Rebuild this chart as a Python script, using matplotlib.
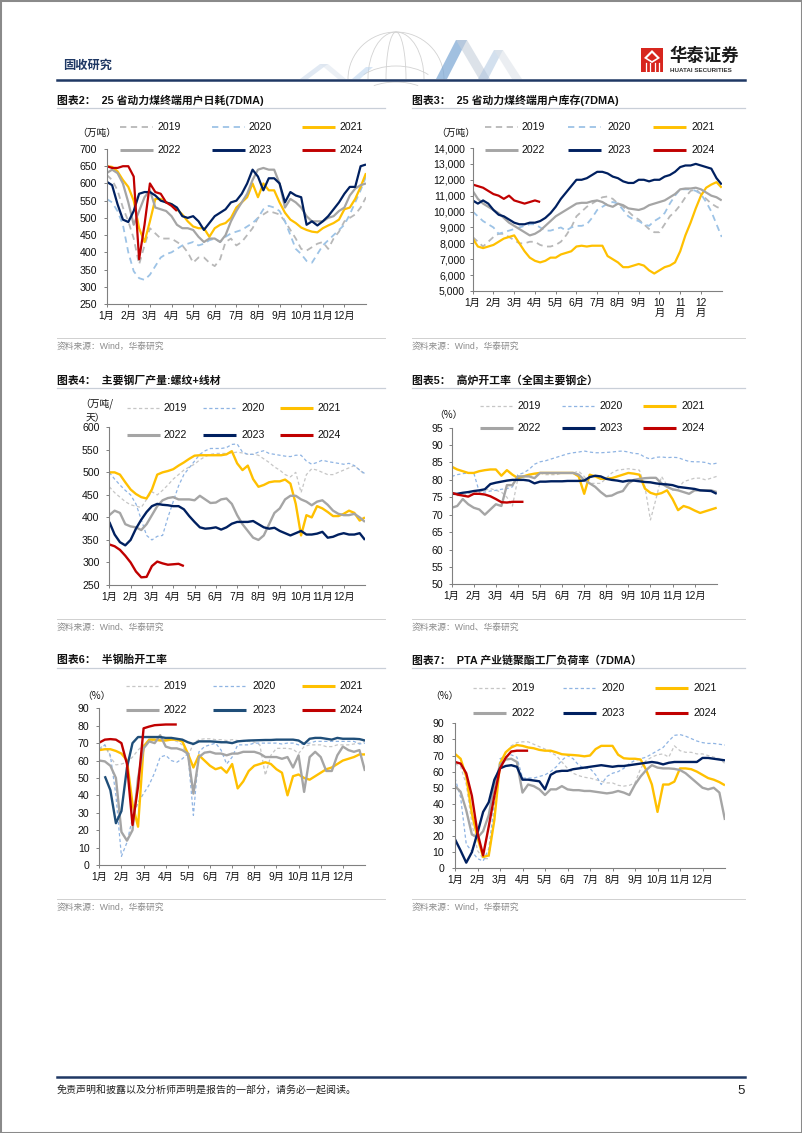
import numpy as np
import matplotlib
matplotlib.use("Agg")
import matplotlib.pyplot as plt
from matplotlib.lines import Line2D
from matplotlib.patches import Rectangle, Polygon, Arc
from matplotlib.ticker import FuncFormatter, FixedLocator

plt.rcParams['font.family'] = ['Liberation Sans', 'Noto Sans CJK SC', 'DejaVu Sans']
plt.rcParams['axes.unicode_minus'] = False
CJK = ['Noto Sans CJK SC', 'DejaVu Sans']

W, H = 802, 1133
NA = np.nan

# x grid: month position (1 = 1 Jan, 13 = end of Dec), quarter-month steps
grid_pos = [1 + q / 4 for q in range(49)]
YEARS = ['2019', '2020', '2021', '2022', '2023', '2024']
MONTH_TICKS = list(range(1, 13))
MONTH_LABELS = ['1月', '2月', '3月', '4月', '5月', '6月', '7月', '8月', '9月', '10月', '11月', '12月']
MONTH_LABELS_WRAP = ['1月', '2月', '3月', '4月', '5月', '6月', '7月', '8月', '9月', '10\n月', '11\n月', '12\n月']

# ---------------- 图表2: 25省动力煤终端用户日耗 (万吨) ----------------
burn_2019 = [625, 610, 580, 530, 490, 440, 365, 420, 470, 455, 440, 440,
             440, 430, 420, 400, 370, 385, 385, 370, 360, 380, 430, 440,
             420, 430, 450, 470, 500, 510, 520, 515, 510, 490, 465, 440,
             410, 405, 415, 425, 430, 410, 440, 460, 490, 500, 510, 530, 560]
burn_2020 = [555, 545, 520, 480, 400, 345, 325, 320, 335, 360, 385, 395,
             400, 410, 420, 425, 430, 420, 425, 435, 440, 430, 445, 455,
             460, 465, 475, 485, 500, 525, 535, 530, 520, 490, 450, 410,
             395, 375, 370, 395, 420, 435, 450, 465, 480, 510, 545, 580, 620]
burn_2021 = [650, 648, 635, 610, 590, 550, 470, 430, 490, 555, 555, 545,
             540, 525, 510, 490, 475, 470, 470, 445, 470, 480, 485, 500,
             530, 545, 560, 600, 560, 600, 580, 580, 545, 515, 495, 485,
             472, 465, 460, 458, 470, 478, 485, 495, 525, 530, 555, 590, 630]
burn_2022 = [630, 640, 630, 600, 545, 480, 520, 560, 580, 530, 525, 520,
             505, 480, 470, 470, 465, 445, 430, 440, 440, 430, 450, 490,
             520, 545, 570, 610, 640, 645, 640, 640, 600, 530, 555, 545,
             530, 505, 490, 490, 490, 500, 505, 520, 530, 565, 585, 595, 600]
burn_2023 = [605, 595, 540, 495, 488, 520, 570, 575, 575, 565, 550, 545,
             540, 530, 505, 500, 505, 490, 465, 485, 505, 515, 525, 545,
             550, 570, 600, 640, 620, 580, 615, 615, 600, 545, 575, 565,
             560, 480, 490, 478, 490, 505, 525, 545, 570, 590, 590, 650, 655]
burn_2024 = [650, 645, 645, 650, 650, 620, 380, 480, 600, 575, 570, 545, 535, 520]

# ---------------- 图表3: 25省动力煤终端用户库存 (万吨) ----------------
stock_2019 = [8400, 8100, 7800, 8100, 8400, 8600, 8600, 8400, 8200, 8000, 8000, 8100,
              8100, 7900, 7800, 7800, 7900, 8100, 8500, 9000, 9700, 10000, 10300, 10500,
              10700, 10900, 10950, 10800, 10500, 10300, 10000, 9700, 9500, 9200, 8900, 8700,
              8700, 9200, 9700, 10000, 10400, 10900, 11300, 11400, 11100, 10800, 10500, 10300, 10150]
stock_2020 = [10000, 9700, 9400, 9200, 9000, 8600, 8700, 8800, 8900, 9000, 9100, 9200,
              9200, 9000, 8800, 8800, 8900, 9000, 8800, 9000, 9100, 9100, 9200, 9600,
              10100, 10300, 10500, 10600, 10500, 10100, 9700, 9500, 9400, 9200, 9100, 9400,
              9600, 9900, 10500, 11000, 11400, 11400, 11400, 11300, 11100, 10600, 10000, 9200, 8400]
stock_2021 = [8300, 7800, 7700, 7800, 7900, 8100, 8300, 8400, 8500, 8000, 7500, 7100,
              6900, 6800, 6900, 7100, 7100, 7300, 7400, 7500, 7800, 7850, 7800, 7850,
              7850, 7850, 7200, 7000, 6800, 6500, 6500, 6600, 6700, 6600, 6300, 6100,
              6300, 6500, 6600, 6800, 7500, 8500, 9300, 10200, 11000, 11500, 11700, 11850, 11500]
stock_2022 = [11300, 10800, 10500, 10300, 10100, 9900, 9600, 9300, 9100, 8900, 8700, 8500,
              8600, 8800, 9100, 9400, 9700, 9900, 10100, 10300, 10500, 10550, 10550, 10650,
              10700, 10600, 10400, 10300, 10500, 10400, 10200, 10150, 10100, 10200, 10400, 10500,
              10600, 10700, 10900, 11100, 11400, 11450, 11450, 11500, 11400, 11200, 11000, 10900, 10700]
stock_2023 = [10700, 10500, 10700, 10500, 10100, 9800, 9700, 9500, 9300, 9200, 9200, 9300,
              9300, 9400, 9600, 9900, 10300, 10800, 11200, 11600, 12000, 12000, 12100, 12300,
              12500, 12500, 12400, 12200, 12100, 11900, 11800, 11800, 12000, 12000, 11900, 12000,
              12000, 12200, 12300, 12500, 12800, 12900, 12900, 13000, 12900, 12800, 12700, 12100, 11700]
stock_2024 = [11700, 11600, 11500, 11300, 11100, 11000, 10800, 11000, 10700, 10600,
              10500, 10600, 10700, 10600]

# ---------------- 图表4: 主要钢厂产量 螺纹+线材 (万吨/天) ----------------
steel_2019 = [468, 455, 445, 435, 428, 425, 422, 440, 457, 450, 460, 472,
              485, 495, 505, 512, 518, 528, 535, 540, 542, 542, 542, 543,
              545, 543, 540, 540, 538, 530, 522, 512, 505, 495, 490, 500,
              455, 495, 508, 505, 500, 495, 495, 500, 505, 510, 515, 505, 495]
steel_2020 = [500, 485, 472, 460, 450, 430, 395, 360, 350, 358, 360, 400,
              435, 470, 495, 510, 525, 540, 548, 553, 553, 553, 555, 562,
              563, 545, 540, 540, 545, 548, 542, 540, 538, 536, 535, 538,
              538, 525, 518, 522, 527, 524, 522, 520, 518, 520, 515, 505, 497]
steel_2021 = [500, 500, 495, 478, 462, 452, 445, 442, 462, 495, 500, 503,
              507, 515, 522, 530, 537, 538, 538, 538, 538, 538, 540, 547,
              520, 505, 515, 485, 468, 472, 478, 480, 480, 484, 475, 430,
              360, 405, 400, 425, 420, 412, 403, 403, 408, 415, 410, 393, 400]
steel_2022 = [405, 415, 410, 385, 380, 378, 372, 385, 405, 425, 438, 443,
              445, 440, 440, 440, 438, 448, 440, 432, 433, 440, 442, 430,
              405, 385, 370, 355, 350, 360, 385, 410, 420, 440, 448, 448,
              440, 435, 427, 435, 438, 428, 415, 408, 405, 405, 408, 400, 390]
steel_2023 = [390, 362, 345, 338, 350, 375, 395, 412, 425, 430, 428, 427,
              425, 425, 418, 403, 390, 378, 375, 376, 378, 373, 378, 386,
              390, 390, 390, 392, 385, 378, 375, 377, 370, 365, 360, 365,
              370, 362, 362, 364, 368, 355, 357, 362, 365, 362, 362, 365, 350]
steel_2024 = [340, 336, 328, 315, 300, 280, 267, 268, 292, 302, 298, 295, 296, 297, 292]

# ---------------- 图表5: 高炉开工率 (%) ----------------
bf_2019 = [76, 75.5, 75.5, 76, 76.5, 76.5, 77, 77.5, 77, 76.5, 75, 72.5,
           80.5, 81, 81.5, 81.5, 82, 81.5, 81.5, 81.5, 82, 82, 82, 82.5,
           81, 79, 79, 79, 80.5, 82, 82.8, 83, 83.2, 83, 82.8, 78,
           68.5, 74.5, 81, 78.5, 77, 77.5, 79.5, 80, 80.5, 80.5, 80, 80.5, 81]
bf_2020 = [81, 81.5, 81.8, 82, 82, 76.5, 76.5, 76.8, 77, 77.3, 77.5, 78,
           81.5, 82, 83, 84.5, 85.2, 85.5, 86, 86.5, 87, 87.5, 87.8, 88,
           88.3, 88, 87.8, 87.8, 87.9, 88, 88.2, 88.3, 88, 87.6, 87.5, 86.5,
           86, 86.5, 86.6, 86.4, 86.5, 86.4, 85.8, 85.3, 85.2, 85.2, 85, 84.5, 84.8]
bf_2021 = [83.8, 83, 82.5, 82, 82, 82.5, 82.8, 83, 83, 81.2, 82.8, 81.5,
           80.5, 81, 81.5, 81.8, 82, 82, 82, 82, 82, 82, 82, 81,
           76, 81.5, 81, 80.3, 80.3, 80.5, 81, 81.5, 82, 81.8, 81.5, 77.5,
           76.3, 75.8, 76.2, 77, 74.5, 71.3, 72.5, 72, 71.2, 70.5, 71, 71.5, 72]
bf_2022 = [72, 72.5, 74.5, 73, 72, 71.5, 70, 71.5, 73, 72.5, 78.5, 78.5,
           81, 81, 81, 80.5, 82, 82, 82, 82, 82, 82, 82, 81.5,
           80, 79, 78, 76.5, 75.3, 75.5, 76.3, 76.8, 79, 80, 80.3, 80.5,
           80.6, 80.6, 79, 78, 77.3, 77, 76.5, 76, 77, 77, 77, 77, 76.5]
bf_2023 = [76, 76, 76.3, 76.5, 76.8, 77, 77.3, 78.8, 79.2, 79.5, 79.8, 80,
           80, 80, 79.8, 79, 79.5, 79.5, 79.6, 79.6, 79.6, 79.7, 79.7, 79.7,
           79.8, 80.8, 81.2, 81, 80.3, 80, 79.8, 79.5, 79.8, 79.8, 79.6, 79.4,
           79.3, 79, 78.8, 78.7, 78.5, 78, 77.8, 77.6, 77.4, 77, 76.9, 76.8, 76]
bf_2024 = [76.3, 75.8, 75.5, 75.2, 76, 76, 75.8, 75.3, 74.5, 73.6, 73.5, 73.7, 73.7, 73.7]

# ---------------- 图表6: 半钢胎开工率 (%) ----------------
tire_2019 = [67, 69, 62, 57.5, 58, 59, 62, 66, 69, 71, 72, 72,
             72, 72, 71, 69, 62, 70, 72, 72.5, 72.5, 72, 72, 71.5,
             72, 71.5, 71, 71, 70.5, 69, 51.5, 63, 67, 67, 67, 66.5,
             64, 68, 69, 69, 69, 68, 68, 69, 69, 69, 69.5, 70, 71]
tire_2020 = [66, 69, 63, 40, 5, 13, 27, 36, 41, 46, 53, 62,
             63, 60, 59, 61, 64, 28.5, 65, 68, 69, 70, 66, 58,
             62, 69, 69, 69, 70, 70, 70, 70, 70, 69.5, 70, 70,
             69, 69.5, 70, 71, 71, 71, 71, 71, 71, 71, 71, 69.5, 70]
tire_2021 = [66, 66.5, 66.5, 65.5, 64, 60, 35, 22, 68, 72, 72, 71.5,
             71.5, 72, 72, 71, 64, 56, 63, 60, 57, 55, 56, 53,
             58, 44, 48, 54, 57, 58, 59, 58, 55, 53, 40, 51,
             52, 50, 49, 51, 53, 55, 56, 58, 60, 61, 62, 63.5, 63.5]
tire_2022 = [60, 59.5, 57, 50, 19, 14, 20, 50, 67, 71, 70, 74.5,
             68, 67, 67, 66, 64, 41, 62, 64.5, 65, 64, 64, 63,
             64, 64, 65, 65, 65, 64, 62, 62, 62, 61, 62, 56,
             63, 42, 62, 65, 62, 54, 54, 63, 68, 66, 65, 66, 54]
tire_2023 = [NA, 51, 43, 24, 31, 56, 70, 73.5, 73.5, 73.5, 73.5, 73.5,
             73, 73, 72.5, 72, 70.5, 69.5, 71, 71, 71, 70.8, 70.5, 70.5,
             70, 71, 71.3, 71.5, 71.6, 71.7, 71.8, 71.8, 72, 72, 72, 72,
             71.5, 69.5, 72.5, 73, 73, 72.5, 72, 73, 72.5, 72.5, 72.5, 72.3, 71.5]
tire_2024 = [70.3, 72, 72.3, 72, 70, 58, 23, 45, 78.5, 79.5, 80.3, 80.5, 80.7, 80.7, 80.7]

# ---------------- 图表7: PTA产业链聚酯工厂负荷率 (%) ----------------
pta_2019 = [65, 63, 52, 28, 11, 6, 6, 35, 67, 71, 76, 78,
            78.5, 78.5, 77, 75.5, 74, 72, 70, 66, 62, 59, 57.5, 56.5,
            56, 55, 54, 53, 53, 51.5, 51, 51.5, 53, 62, 67, 69,
            70.5, 71, 69, 76, 73, 72, 72, 71, 71, 70, 69, 68, 65]
pta_2020 = [56, 44, 15, 10.5, 6, 4.5, 12, 40, 68, 69.4, 70.4, 69,
            56, 56, 56, 57, 58, 60, 63, 67, 70, 68, 64, 62,
            62, 58, 52, 57, 59, 60, 62, 65, 67, 68, 69, 71,
            73, 75, 79, 82.5, 83, 82, 80.5, 79, 78, 77.5, 77.5, 77, 76.5]
pta_2021 = [71, 68, 57, 34, 19, 7, 8, 30, 65, 72, 75, 76.5,
            76, 75, 74.5, 73.5, 73, 73, 72, 70.8, 70.5, 70.3, 70, 69.5,
            70, 74, 76, 76, 76, 70.5, 68.3, 68, 68, 67.5, 61, 52,
            35, 52, 52, 53.8, 62, 62, 61.5, 60, 58, 56, 55, 53.5, 51.5]
pta_2022 = [51, 47.5, 36, 21, 19, 23, 33, 52, 64, 67.5, 68, 66,
            47, 52, 51, 49, 45.5, 49, 49, 51, 49, 48.5, 48.5, 48,
            48, 47.5, 47, 46.5, 47, 48, 47, 45.5, 52, 57, 61, 64,
            62.5, 62, 62, 61.7, 61, 59, 56, 53, 50, 49, 50, 47, 30]
pta_2023 = [18, 11, 3.5, 10, 22, 35, 41, 55, 62, 63.5, 64, 63,
            55, 55, 54.5, 54, 49, 58, 60, 60.5, 60.5, 61.5, 62, 62.5,
            63, 63.5, 64, 63.5, 63, 63.5, 63.5, 64, 64.5, 65, 65.5, 66,
            65.5, 64.5, 65.5, 66, 66, 66, 66, 66, 68.5, 68.5, 68, 67.5, 67]
pta_2024 = [66, 65, 59, 45, 22, 8, 26, 45, 62, 68.5, 72.5, 73, 73, 73]

# ---------------- figure ----------------
fig = plt.figure(figsize=(W / 100, H / 100), dpi=100)


def px(x):
    return x / W


def py(y):
    return 1 - y / H


def ftext(x, y, s, **kw):
    return fig.text(px(x), py(y), s, **kw)


def fline(x1, x2, y1, y2=None, **kw):
    if y2 is None:
        y2 = y1
    fig.add_artist(Line2D([px(x1), px(x2)], [py(y1), py(y2)],
                          transform=fig.transFigure, **kw))


def fpoly(pts, **kw):
    fig.add_artist(Polygon([(px(a), py(b)) for a, b in pts], closed=True,
                           transform=fig.transFigure, **kw))


def farc(cx, cy, w, h, t1, t2, **kw):
    fig.add_artist(Arc((px(cx), py(cy)), w / W, h / H, theta1=t1, theta2=t2,
                       transform=fig.transFigure, **kw))


# page border
fig.add_artist(Rectangle((0, 0), 1, 1, transform=fig.transFigure, fill=False,
                         edgecolor='#8a8a8a', lw=2.2))

# watermark (half globe + ribbons) above the header rule
gk = dict(color='#d2d2d2', lw=0.6)
farc(396, 79, 96, 94, 0, 180, **gk)
farc(396, 79, 56, 94, 0, 180, **gk)
farc(396, 79, 20, 94, 0, 180, **gk)
farc(396, 96, 92, 60, 25, 155, **gk)
farc(396, 112, 92, 60, 40, 140, **gk)
fpoly([(300, 79), (320, 64), (328, 64), (308, 79)], facecolor='#c9d8ea', edgecolor='none', alpha=0.55)
fpoly([(320, 64), (328, 64), (346, 79), (338, 79)], facecolor='#dde5ee', edgecolor='none', alpha=0.55)
fpoly([(352, 79), (366, 67), (373, 67), (360, 79)], facecolor='#b9d3ee', edgecolor='none', alpha=0.55)
fpoly([(436, 79), (456, 40), (467, 40), (447, 79)], facecolor='#7aa6d4', edgecolor='none', alpha=0.7)
fpoly([(456, 40), (467, 40), (490, 79), (479, 79)], facecolor='#c5cfdb', edgecolor='none', alpha=0.6)
fpoly([(478, 79), (494, 50), (503, 50), (488, 79)], facecolor='#a9c2de', edgecolor='none', alpha=0.5)
fpoly([(494, 50), (503, 50), (522, 79), (512, 79)], facecolor='#dfe4ea', edgecolor='none', alpha=0.6)

# header
ftext(63, 65, '固收研究', fontsize=8.8, fontweight='bold', color='#1F3864', va='center', family=CJK)
fline(57, 745, 80, color='#1F3864', lw=1.8)
# logo
fig.add_artist(Rectangle((px(641), py(72)), 22 / W, 24 / H, transform=fig.transFigure,
                         facecolor='#D7261E', edgecolor='none'))
fpoly([(652, 50), (660, 58), (652, 63), (644, 58)], facecolor='white', edgecolor='none')
fpoly([(652, 53), (657, 58), (652, 61), (647, 58)], facecolor='#D7261E', edgecolor='none')
for bx in (645.5, 649.5, 654.5, 658.5):
    fline(bx, bx, 63, 71, color='white', lw=0.9)
ftext(669, 56, '华泰证券', fontsize=12.5, fontweight='bold', color='#1a1a1a', va='center', family=CJK)
ftext(670, 70.5, 'HUATAI SECURITIES', fontsize=4.5, fontweight='bold', color='#333333', va='center')

# footer
fline(57, 745, 1077, color='#1F3864', lw=1.8)
ftext(57, 1091, '免责声明和披露以及分析师声明是报告的一部分，请务必一起阅读。', fontsize=7.2,
      color='#222222', va='center', family=CJK)
ftext(745, 1091, '5', fontsize=9.5, color='#222222', va='center', ha='right')


# series styles
def styles(light):
    dash_lw = 1.3 if not light else 0.9
    dash = (3.5, 2.5) if not light else (2.6, 2.0)
    c19 = '#B8B8B8' if not light else '#C6C6C6'
    c20 = '#9DC3E6' if not light else '#8FB4E3'
    slw = 1.6 if not light else 1.7
    return {
        '2019': dict(color=c19, lw=dash_lw, ls=(0, dash)),
        '2020': dict(color=c20, lw=dash_lw, ls=(0, dash)),
        '2021': dict(color='#FFC000', lw=slw, ls='-'),
        '2022': dict(color='#A5A5A5', lw=slw, ls='-'),
        '2023': dict(color='#002060', lw=slw, ls='-'),
        '2024': dict(color='#C00000', lw=slw, ls='-'),
    }


charts = [
    dict(title='图表2：  25 省动力煤终端用户日耗(7DMA)', tx=57, ty=100, col=(57, 385),
         box=(106.7, 149, 366, 304), ylim=(250, 700), yticks=list(range(250, 701, 50)),
         series=[burn_2019, burn_2020, burn_2021, burn_2022, burn_2023, burn_2024],
         light=False, labels=MONTH_LABELS, units=[('（万吨）', 77, 133)],
         leg_rows=(127, 150), leg_x=(120, 212, 302), leg_tx=(158, 249, 339),
         src='资料来源：Wind，华泰研究', src_y=346, src_line=338, comma=False, ypad=4.5),
    dict(title='图表3：  25 省动力煤终端用户库存(7DMA)', tx=412, ty=100, col=(412, 745),
         box=(472.7, 148, 721.7, 291), ylim=(5000, 14000), yticks=list(range(5000, 14001, 1000)),
         series=[stock_2019, stock_2020, stock_2021, stock_2022, stock_2023, stock_2024],
         light=False, labels=MONTH_LABELS_WRAP, units=[('（万吨）', 436, 133)],
         leg_rows=(127, 150), leg_x=(485, 568, 653), leg_tx=(522, 607, 691),
         src='资料来源：Wind，华泰研究', src_y=346, src_line=338, comma=True, ypad=3),
    dict(title='图表4：  主要钢厂产量:螺纹+线材', tx=57, ty=380, col=(57, 385),
         box=(109.3, 427.3, 365, 585), ylim=(250, 600), yticks=list(range(250, 601, 50)),
         series=[steel_2019, steel_2020, steel_2021, steel_2022, steel_2023, steel_2024],
         light=True, labels=MONTH_LABELS, units=[('（万吨/', 80, 404), ('天）', 86, 418)],
         leg_rows=(408, 435), leg_x=(127, 203, 280), leg_tx=(163, 241, 317),
         src='资料来源：Wind、华泰研究', src_y=627, src_line=619, comma=False, ypad=4.5),
    dict(title='图表5：  高炉开工率（全国主要钢企）', tx=412, ty=380, col=(412, 745),
         box=(451.7, 427.7, 716.7, 584.3), ylim=(50, 95), yticks=list(range(50, 96, 5)),
         series=[bf_2019, bf_2020, bf_2021, bf_2022, bf_2023, bf_2024],
         light=True, labels=MONTH_LABELS, units=[('（%）', 434, 415)],
         leg_rows=(405.7, 428.3), leg_x=(480, 562, 643), leg_tx=(518, 599, 681),
         src='资料来源：Wind、华泰研究', src_y=627, src_line=619, comma=False, ypad=3.5),
    dict(title='图表6：  半钢胎开工率', tx=57, ty=660, col=(57, 385),
         box=(99.3, 708.3, 365, 865), ylim=(0, 90), yticks=list(range(0, 91, 10)),
         series=[tire_2019, tire_2020, tire_2021, tire_2022, tire_2023, tire_2024],
         light=True, labels=MONTH_LABELS, units=[('（%）', 82, 696)],
         leg_rows=(685.7, 710), leg_x=(126, 213, 302), leg_tx=(163, 252, 339),
         src='资料来源：Wind，华泰研究', src_y=907, src_line=899, comma=False, ypad=4.5,
         c23='#1F4E79'),
    dict(title='图表7：  PTA 产业链聚酯工厂负荷率（7DMA）', tx=412, ty=660, col=(412, 745),
         box=(455, 723.3, 725, 868.3), ylim=(0, 90), yticks=list(range(0, 91, 10)),
         series=[pta_2019, pta_2020, pta_2021, pta_2022, pta_2023, pta_2024],
         light=True, labels=MONTH_LABELS, units=[('（%）', 430, 696)],
         leg_rows=(687.7, 713.3), leg_x=(473, 563, 655), leg_tx=(511, 602, 693),
         src='资料来源：Wind，华泰研究', src_y=907, src_line=899, comma=False, ypad=5.5),
]

for ch in charts:
    st = styles(ch['light'])
    if 'c23' in ch:
        st['2023'] = dict(st['2023'], color=ch['c23'])
    # title + rule
    ftext(ch['tx'], ch['ty'], ch['title'], fontsize=7.8, fontweight='bold', color='#111111', va='center')
    fline(ch['col'][0], ch['col'][1], ch['ty'] + 8, color='#C9CFD8', lw=0.9)
    # source + rule
    fline(ch['col'][0], ch['col'][1], ch['src_line'], color='#D0D0D0', lw=0.7)
    ftext(ch['col'][0], ch['src_y'], ch['src'], fontsize=6.3, color='#8c8c8c', va='center')

    l, t, r, b = ch['box']
    ax = fig.add_axes([px(l), py(b), (r - l) / W, (b - t) / H])
    for yr, vals in zip(YEARS, ch['series']):
        ax.plot(grid_pos[:len(vals)], vals, solid_capstyle='butt', **st[yr])
    ax.set_xlim(1, 13)
    ax.set_ylim(*ch['ylim'])
    ax.set_yticks(ch['yticks'])
    if ch['comma']:
        ax.yaxis.set_major_formatter(FuncFormatter(lambda v, p: f'{int(v):,}'))
    ax.xaxis.set_major_locator(FixedLocator(MONTH_TICKS))
    ax.set_xticklabels(ch['labels'], linespacing=1.05)
    for s in ('top', 'right'):
        ax.spines[s].set_visible(False)
    for s in ('left', 'bottom'):
        ax.spines[s].set_color('#808080')
        ax.spines[s].set_linewidth(0.8)
    ax.tick_params(axis='y', length=2.5, width=0.7, color='#808080', pad=ch['ypad'],
                   labelsize=7.6, labelcolor='#111111')
    ax.tick_params(axis='x', length=2.5, width=0.7, color='#808080', pad=2.5,
                   labelsize=7.4, labelcolor='#111111')
    ax.patch.set_alpha(0)

    # unit label
    for s, ux, uy in ch['units']:
        ftext(ux, uy, s, fontsize=7.0, color='#111111', va='center', ha='left', family=CJK)

    # legend (2 rows x 3 columns)
    for k, yr in enumerate(YEARS):
        row, colk = divmod(k, 3)
        yy = ch['leg_rows'][row]
        x0 = ch['leg_x'][colk]
        lw_leg = st[yr]['lw'] + (0.5 if yr not in ('2019', '2020') else 0)
        fline(x0, x0 + 33, yy, color=st[yr]['color'], lw=lw_leg, ls=st[yr]['ls'],
              solid_capstyle='butt')
        ftext(ch['leg_tx'][colk], yy, yr, fontsize=7.6, color='#111111', va='center')

fig.savefig('out.png', dpi=100)
